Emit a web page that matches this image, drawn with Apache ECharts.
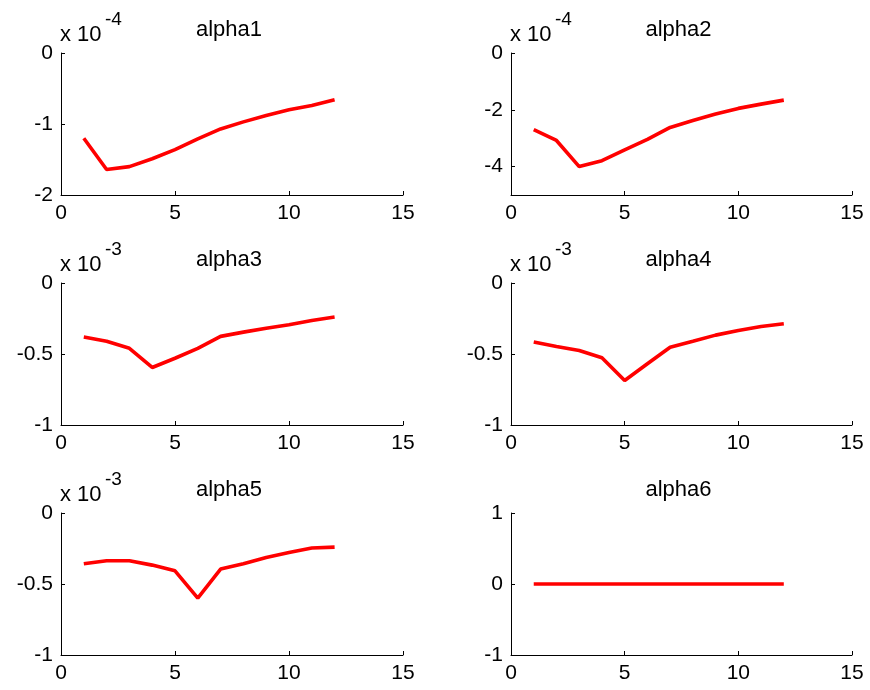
<!DOCTYPE html>
<html>
<head>
<meta charset="utf-8">
<script src="https://cdn.jsdelivr.net/npm/echarts@6/dist/echarts.min.js"></script>
<style>html,body{margin:0;padding:0;background:#fff}#c{width:870px;height:690px}</style>
</head>
<body>
<div id="c"></div>
<script>
// ---- data ----
const iterations = [1, 2, 3, 4, 5, 6, 7, 8, 9, 10, 11, 12];
const alpha1 = [-1.20e-4, -1.64e-4, -1.60e-4, -1.49e-4, -1.36e-4, -1.21e-4, -1.07e-4, -0.97e-4, -0.88e-4, -0.80e-4, -0.74e-4, -0.66e-4];
const alpha2 = [-2.70e-4, -3.08e-4, -4.00e-4, -3.79e-4, -3.41e-4, -3.04e-4, -2.62e-4, -2.38e-4, -2.15e-4, -1.95e-4, -1.80e-4, -1.66e-4];
const alpha3 = [-0.380e-3, -0.410e-3, -0.460e-3, -0.595e-3, -0.530e-3, -0.460e-3, -0.376e-3, -0.346e-3, -0.318e-3, -0.294e-3, -0.264e-3, -0.240e-3];
const alpha4 = [-0.416e-3, -0.447e-3, -0.475e-3, -0.527e-3, -0.687e-3, -0.569e-3, -0.452e-3, -0.410e-3, -0.367e-3, -0.334e-3, -0.306e-3, -0.287e-3];
const alpha5 = [-0.358e-3, -0.336e-3, -0.336e-3, -0.367e-3, -0.407e-3, -0.600e-3, -0.395e-3, -0.358e-3, -0.313e-3, -0.278e-3, -0.247e-3, -0.240e-3];
const alpha6 = [0, 0, 0, 0, 0, 0, 0, 0, 0, 0, 0, 0];
const titles = ['alpha1', 'alpha2', 'alpha3', 'alpha4', 'alpha5', 'alpha6'];
const seriesData = [alpha1, alpha2, alpha3, alpha4, alpha5, alpha6];
const exponents = [-4, -4, -3, -3, -3, 0];
const yMins = [-2e-4, -5e-4, -1e-3, -1e-3, -1e-3, -1];
const yMaxs = [0, 0, 0, 0, 0, 1];
const yTicks = [[-2e-4, -1e-4, 0], [-4e-4, -2e-4, 0], [-1e-3, -0.5e-3, 0], [-1e-3, -0.5e-3, 0], [-1e-3, -0.5e-3, 0], [-1, 0, 1]];
const xTicks = [0, 5, 10, 15];

// ---- layout ----
const FONT = '"Liberation Sans", Arial, Helvetica, sans-serif';
const FS = 21;
const lefts = [61, 511];
const widths = [342, 341];
const tops = [53, 283, 513];
const H = 142;

const grids = [], xAxes = [], yAxes = [], series = [], graphics = [];
for (let i = 0; i < 6; i++) {
  const col = i % 2, row = Math.floor(i / 2);
  const L = lefts[col], T = tops[row], W = widths[col];
  grids.push({ left: L, top: T, width: W, height: H, containLabel: false });
  const axisCommon = {
    axisLine: { show: true, onZero: false, lineStyle: { color: '#000', width: 1 } },
    axisTick: { show: true, inside: true, length: 4, lineStyle: { color: '#000' } },
    splitLine: { show: false },
    axisLabel: { color: '#000', fontSize: FS, fontFamily: FONT }
  };
  xAxes.push(Object.assign({}, axisCommon, {
    type: 'value', gridIndex: i, min: 0, max: 15, interval: 5,
    axisTick: Object.assign({}, axisCommon.axisTick, { customValues: xTicks }),
    axisLabel: Object.assign({}, axisCommon.axisLabel, { margin: 8, customValues: xTicks })
  }));
  const exp = exponents[i];
  yAxes.push(Object.assign({}, axisCommon, {
    type: 'value', gridIndex: i, min: yMins[i], max: yMaxs[i],
    axisTick: Object.assign({}, axisCommon.axisTick, { customValues: yTicks[i] }),
    axisLabel: Object.assign({}, axisCommon.axisLabel, {
      margin: 8, customValues: yTicks[i],
      formatter: v => String(Math.round(v / Math.pow(10, exp) * 100) / 100)
    })
  }));
  series.push({
    type: 'line', xAxisIndex: i, yAxisIndex: i,
    data: iterations.map((x, k) => [x, seriesData[i][k]]),
    showSymbol: false, symbol: 'none',
    lineStyle: { color: '#ff0000', width: 3.6 },
    itemStyle: { color: '#ff0000' },
    animation: false
  });
  graphics.push({
    type: 'text', x: L + W / 2 - 3, y: T - 23,
    style: { text: titles[i], fontSize: 22, fontFamily: FONT, fill: '#000', align: 'center', verticalAlign: 'middle' }
  });
  if (exp !== 0) {
    graphics.push({
      type: 'text', x: L - 1, y: T - 18,
      style: { text: 'x 10', fontSize: 22, fontFamily: FONT, fill: '#000', align: 'left', verticalAlign: 'middle' }
    });
    graphics.push({
      type: 'text', x: L + 44, y: T - 33,
      style: { text: String(exp), fontSize: 19, fontFamily: FONT, fill: '#000', align: 'left', verticalAlign: 'middle' }
    });
  }
}

const chart = echarts.init(document.getElementById('c'), null, { renderer: 'canvas' });
chart.setOption({
  backgroundColor: '#fff',
  animation: false,
  grid: grids,
  xAxis: xAxes,
  yAxis: yAxes,
  series: series,
  graphic: graphics
});
</script>
</body>
</html>
